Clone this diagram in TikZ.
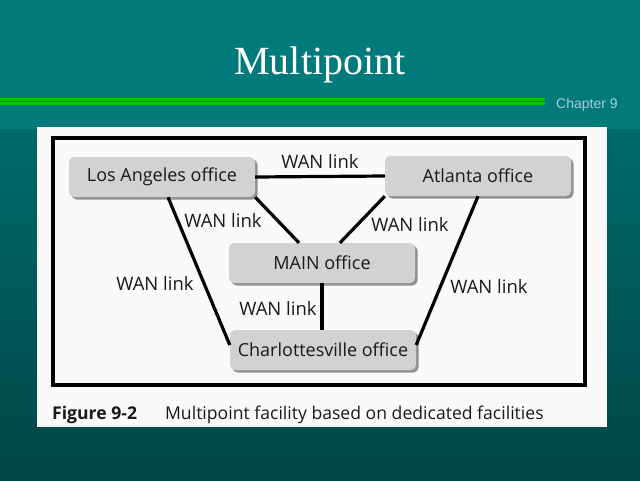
\documentclass[tikz,border=0pt]{standalone}
\usepackage{fontspec}
\setmainfont{Liberation Serif}
\newfontfamily\figfont{Open Sans}
\newfontfamily\slidefont{Liberation Sans}
\usetikzlibrary{shadows,backgrounds}
\definecolor{slideteal}{RGB}{0,122,122}
\definecolor{slidetealmid}{RGB}{0,106,106}
\definecolor{slidetealdark}{RGB}{0,70,70}
\definecolor{bargreen}{RGB}{0,200,0}
\definecolor{chapterblue}{RGB}{170,200,230}
\definecolor{officegray}{RGB}{210,210,210}
\definecolor{shadegray}{RGB}{145,145,145}

\begin{document}
\begin{tikzpicture}[x=1pt, y=-1pt,
     office/.style={fill=officegray, rounded corners=5pt, minimum width=186pt, minimum height=40pt, inner sep=0pt,
        font=\figfont\fontsize{18}{21}\selectfont, text=black!90,
        drop shadow={shadow xshift=2.5pt, shadow yshift=-2.5pt, fill=shadegray, opacity=1}},
     wan/.style={line width=3.2pt, black},
     wanlabel/.style={font=\figfont\fontsize{18.5}{21}\selectfont, text=black!90, inner sep=0pt}]

   \useasboundingbox (0,0) rectangle (640,480);
   \fill[slideteal] (0,0) rectangle (640,480);
   \shade[top color=slidetealmid, bottom color=slidetealdark] (0,129) rectangle (640,480);
   \fill[bargreen] (0,98) rectangle (545,100.5);
   \fill[bargreen] (0,102) rectangle (545,105);
   \node[font=\fontsize{40}{44}\selectfont, text=white, anchor=base] (title) at (320,74) {Multipoint};
   \node[font=\slidefont\fontsize{14}{16}\selectfont, text=chapterblue, anchor=base west, inner sep=0pt] (chapter) at (556,108) {Chapter 9};
   \fill[black!2] (37,127) rectangle (607,427);
   \draw[line width=4pt] (53,138) rectangle (585,385);

   \node[office] (la) at (162,177) {Los Angeles office};
   \node[office] (atl) at (478,176) {Atlanta office};
   \node[office] (main) at (322,263) {MAIN office};
   \node[office] (charl) at (323,350) {Charlottesville office};

   \draw[wan] (la.east) -- (atl.west);
   \draw[wan] (la.south east) -- ([xshift=-23pt]main.north);
   \draw[wan] (atl.south west) -- ([xshift=18pt]main.north);
   \draw[wan] ([xshift=6pt]la.south) -- ([yshift=5pt]charl.west);
   \draw[wan] (atl.south) -- ([yshift=5pt]charl.east);
   \draw[wan] (main.south) -- (main.south |- charl.north);

   \node[wanlabel] (top link) at (320,161) {WAN link};
   \node[wanlabel] (la main link) at (223,220) {WAN link};
   \node[wanlabel] (atl main link) at (410,224) {WAN link};
   \node[wanlabel] (la charl link) at (155,283) {WAN link};
   \node[wanlabel] (atl charl link) at (489,286) {WAN link};
   \node[wanlabel] (main charl link) at (278,308) {WAN link};

   \node[font=\figfont\fontsize{17.6}{20}\selectfont, text=black!90, anchor=base west, inner sep=0pt] (caption) at (52,419)
      {\textbf{Figure 9-2}\hspace{28pt}Multipoint facility based on dedicated facilities};
  \end{tikzpicture}
\end{document}
